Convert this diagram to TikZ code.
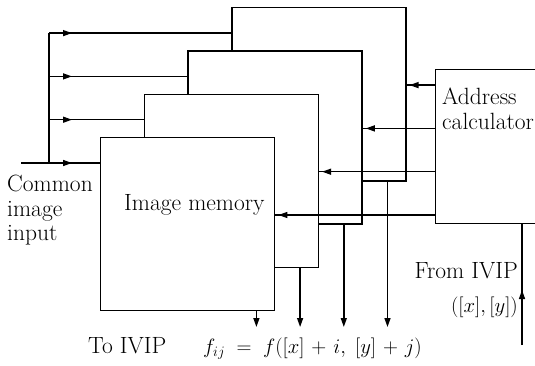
\documentclass[tikz,border=0pt]{standalone}
\usepackage{amsmath}
\usepackage{fontspec}
\usepackage{tikz}
\usetikzlibrary{arrows.meta,positioning,calc,decorations.markings}
\tikzset{
	membox/.style={draw, fill=white, line width=1.4pt, inner sep=0pt,
		minimum width=174pt, minimum height=173pt, anchor=north west},
	wire/.style={line width=1.4pt},
	outarrow/.style={-{Triangle[length=9pt,width=6pt]}, line width=1.4pt},
	tipat/.style={postaction={decorate}, decoration={markings,
			mark=at position #1 with {\arrow{Triangle[length=9pt,width=6pt]}}}},
	txt/.style={font=\fontsize{23.5}{24.5}\selectfont, inner sep=0pt, align=left},
	mathtxt/.style={font=\fontsize{20.5}{24.5}\selectfont, inner sep=0pt}
}

\begin{document}
\begin{tikzpicture}[x=1pt, y=1pt]
	
	\useasboundingbox (0,0) rectangle (535,365);
	
	%% -- image memory planes, back to front
	\foreach \i in {4,3,2,1}
	\node[membox] (mem\i) at ({100+(\i-1)*43.7},{228+(\i-1)*43.3}) {};
	
	\node[txt, anchor=base west] (memlbl) at (124,155) {Image memory};
	
	%% -- address calculator (runs off the right edge)
	\begin{scope}
		\clip (0,0) rectangle (535,365);
		\node[membox, minimum width=130pt, minimum height=154pt] (addr)
		at (435,296) {};
	\end{scope}
	\node[txt, anchor=north west] (addrtxt)
	at ([shift={(7pt,-19pt)}]addr.north west) {Address\\calculator};
	
	%% -- taps on each plane
	\foreach \i in {1,...,4} {
		\coordinate (in\i) at ($(mem\i.north west)+(0,-26)$);
		\coordinate (ad\i) at ($(mem\i.north east)+(0,-78)$);
		\coordinate (out\i) at ($(mem\i.south east)+(-19,0)$);
	}
	
	%% -- common image input
	\coordinate (in) at (21,202);
	\coordinate (spine) at (49,202);
	\draw[wire] (in) -- (spine) -- (spine |- in4);
	\foreach \i in {1,...,4}
	\draw[wire, tipat=23pt] (spine |- in\i) -- (in\i);
	
	%% -- addresses from the calculator
	\foreach \i in {1,...,4}
	\draw[wire, tipat=-3pt] (addr.west |- ad\i) -- (ad\i);
	
	%% -- outputs to IVIP
	\coordinate (bus) at (0,38);
	\foreach \i in {1,...,4}
	\draw[outarrow] (out\i) -- (out\i |- bus);
	
	%% -- input from IVIP
	\coordinate (ivip) at (522,20);
	\draw[wire, tipat=55pt] (ivip) -- (ivip |- addr.south);
	
	%% -- labels
	\node[txt, anchor=north west] (common) at (7,190) {Common\\image\\input};
	\node[txt, anchor=base east] (from) at (518,87) {From IVIP};
	\node[mathtxt, anchor=base east] (fromxy) at (518,53) {$([x], [y])$};
	\node[txt, anchor=base west] (to) at (88,12) {To IVIP};
	\node[mathtxt, anchor=base west] (fij) at (203,12)
	{$\medmuskip=6mu\relax f_{ij} \;=\; f([x] + i,\; [y] + j)$};
	
\end{tikzpicture}
\end{document}
